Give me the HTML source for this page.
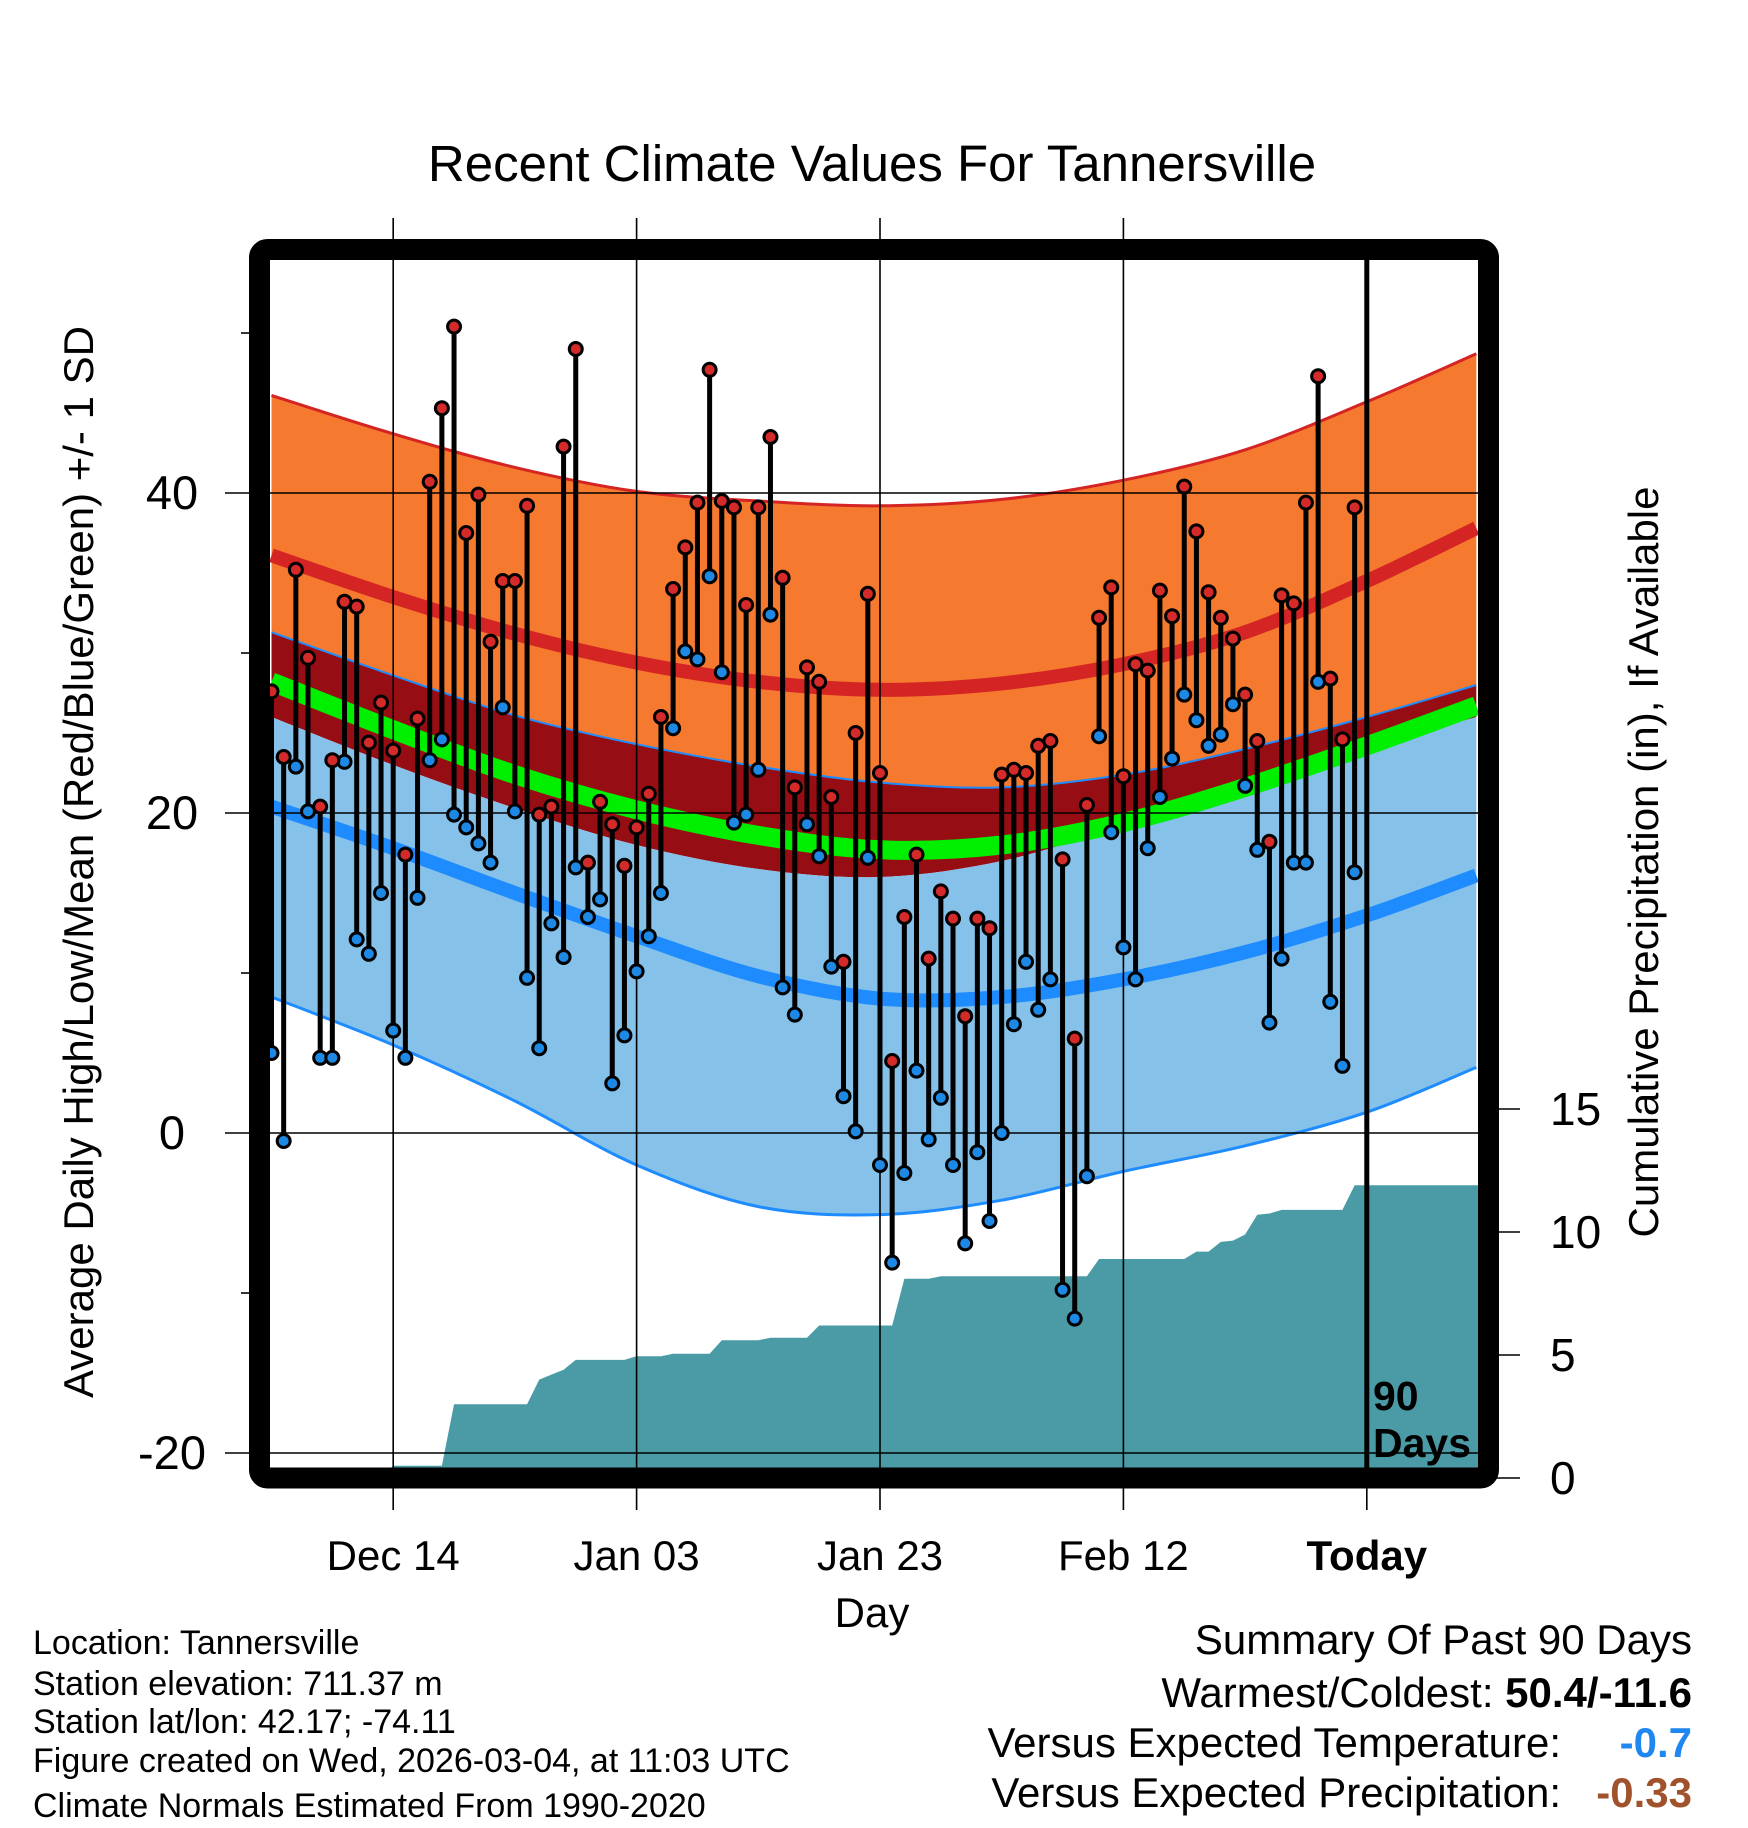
<!DOCTYPE html>
<html><head><meta charset="utf-8"><style>
html,body{margin:0;padding:0;background:#fff;}
svg{display:block;font-family:"Liberation Sans",sans-serif;}
</style></head><body>
<svg id="chart" width="1748" height="1828" viewBox="0 0 1748 1828" xmlns="http://www.w3.org/2000/svg">
<text x="872" y="181" font-size="51" text-anchor="middle">Recent Climate Values For Tannersville</text>
<g id="plot"></g>
<text transform="translate(93,862) rotate(-90)" font-size="42" text-anchor="middle">Average Daily High/Low/Mean (Red/Blue/Green) +/- 1 SD</text>
<text transform="translate(1658,862) rotate(-90)" font-size="42" text-anchor="middle">Cumulative Precipitation (in), If Available</text>
<text x="872" y="1627" font-size="42" text-anchor="middle">Day</text>
<g font-size="34">
<text x="33" y="1654">Location: Tannersville</text>
<text x="33" y="1695">Station elevation: 711.37 m</text>
<text x="33" y="1733">Station lat/lon: 42.17; -74.11</text>
<text x="33" y="1772">Figure created on Wed, 2026-03-04, at 11:03 UTC</text>
<text x="33" y="1817">Climate Normals Estimated From 1990-2020</text>
</g>
<g font-size="42">
<text x="1692" y="1654" text-anchor="end">Summary Of Past 90 Days</text>
<text x="1692" y="1707" text-anchor="end">Warmest/Coldest: <tspan font-weight="bold">50.4/-11.6</tspan></text>
<text x="1561" y="1757" text-anchor="end">Versus Expected Temperature:</text>
<text x="1692" y="1757" text-anchor="end" font-weight="bold" fill="#1e88f0">-0.7</text>
<text x="1561" y="1807" text-anchor="end">Versus Expected Precipitation:</text>
<text x="1692" y="1807" text-anchor="end" font-weight="bold" fill="#a0522d">-0.33</text>
</g>
</svg>
<script>
// ---- data ----
const highs = [27.6,23.5,35.2,29.7,20.4,23.3,33.2,32.9,24.4,26.9,23.9,17.4,25.9,40.7,45.3,50.4,37.5,39.9,30.7,34.5,34.5,39.2,19.9,20.4,42.9,49.0,16.9,20.7,19.3,16.7,19.1,21.2,26.0,34.0,36.6,39.4,47.7,39.5,39.1,33.0,39.1,43.5,34.7,21.6,29.1,28.2,21.0,10.7,25.0,33.7,22.5,4.5,13.5,17.4,10.9,15.1,13.4,7.3,13.4,12.8,22.4,22.7,22.5,24.2,24.5,17.1,5.9,20.5,32.2,34.1,22.3,29.3,28.9,33.9,32.3,40.4,37.6,33.8,32.2,30.9,27.4,24.5,18.2,33.6,33.1,39.4,47.3,28.4,24.6,39.1];
const lows = [5.0,-0.5,22.9,20.1,4.7,4.7,23.2,12.1,11.2,15.0,6.4,4.7,14.7,23.3,24.6,19.9,19.1,18.1,16.9,26.6,20.1,9.7,5.3,13.1,11.0,16.6,13.5,14.6,3.1,6.1,10.1,12.3,15.0,25.3,30.1,29.6,34.8,28.8,19.4,19.9,22.7,32.4,9.1,7.4,19.3,17.3,10.4,2.3,0.1,17.2,-2.0,-8.1,-2.5,3.9,-0.4,2.2,-2.0,-6.9,-1.2,-5.5,0.0,6.8,10.7,7.7,9.6,-9.8,-11.6,-2.7,24.8,18.8,11.6,9.6,17.8,21.0,23.4,27.4,25.8,24.2,24.9,26.8,21.7,17.7,6.9,10.9,16.9,16.9,28.2,8.2,4.2,16.3];
const precip = [0,0,0,0,0,0,0,0,0,0,0.5,0.5,0.5,0.5,0.5,3.0,3.0,3.0,3.0,3.0,3.0,3.0,4.0,4.2,4.4,4.8,4.8,4.8,4.8,4.8,4.95,4.95,4.95,5.05,5.05,5.05,5.05,5.6,5.6,5.6,5.6,5.7,5.7,5.7,5.7,6.2,6.2,6.2,6.2,6.2,6.2,6.2,8.1,8.1,8.1,8.2,8.2,8.2,8.2,8.2,8.2,8.2,8.2,8.2,8.2,8.2,8.2,8.2,8.9,8.9,8.9,8.9,8.9,8.9,8.9,8.9,9.2,9.2,9.6,9.65,9.9,10.7,10.75,10.9,10.9,10.9,10.9,10.9,10.9,11.9];
const knotDays = [0,10,20,30,40,50,60,70,80,90,99];
const recHigh  = [46.1,43.7,41.6,40.1,39.5,39.2,39.6,40.8,42.7,45.7,48.7];
const meanHigh = [36.1,33.5,31.2,29.4,28.2,27.7,28.1,29.3,31.3,34.5,37.8];
const sdTop    = [31.3,28.6,26.1,24.3,22.9,21.9,21.6,22.4,24.0,26.0,28.0];
const meanTemp = [28.2,25.2,22.4,20.2,18.6,17.7,18.0,19.4,21.6,24.2,26.7];
const sdBottom = [26.0,23.0,20.3,18.0,16.5,16.0,17.0,19.2,21.5,24.0,26.0];
const meanLow  = [20.4,17.8,15.0,12.3,9.8,8.4,8.5,9.6,11.3,13.6,16.1];
const recLow   = [8.5,5.5,2.0,-2.0,-4.6,-5.1,-4.2,-2.4,-0.8,1.3,4.1];
const yTicks = [40,20,0,-20];
const yMinor = [50,30,10,-10];
const pTicks = [0,5,10,15];
const xTickDays = [10,30,50,70,90];
const xTickLabels = ["Dec 14","Jan 03","Jan 23","Feb 12","Today"];

// ---- axes ----
const L=270,R=1478,T=260,B=1468;
const X = d => 271.5 + 12.17*d;
const Y = v => 1133 - 16*v;
const YP = v => 1478 - 24.6*v;
const NS="http://www.w3.org/2000/svg";
const plot=document.getElementById('plot');
function mk(tag,attrs,parent){const e=document.createElementNS(NS,tag);for(const k in attrs)e.setAttribute(k,attrs[k]);(parent||plot).appendChild(e);return e;}
function pts(days,vals){return days.map((d,i)=>[X(d),Y(vals[i])]);}
function smooth(p){let s='';for(let i=0;i<p.length-1;i++){const p0=p[Math.max(0,i-1)],p1=p[i],p2=p[i+1],p3=p[Math.min(p.length-1,i+2)];
 const c1=[p1[0]+(p2[0]-p0[0])/6,p1[1]+(p2[1]-p0[1])/6],c2=[p2[0]-(p3[0]-p1[0])/6,p2[1]-(p3[1]-p1[1])/6];
 s+=(i===0?'M'+p1[0]+','+p1[1]:'')+' C'+c1.join(',')+' '+c2.join(',')+' '+p2.join(',');}return s;}
function rev(p){return p.slice().reverse();}
function band(a,b){const pa=pts(knotDays,a),pb=rev(pts(knotDays,b));return smooth(pa)+' L'+pb[0].join(',')+smooth(pb).replace(/^M[^ ]+/,'')+' Z';}

const defs=mk('defs',{});
const cp=mk('clipPath',{id:'clip'},defs);
mk('rect',{x:L,y:T,width:R-L,height:B-T},cp);
const g=mk('g',{'clip-path':'url(#clip)'});



let e;
e=mk('path',{d:band(recHigh,sdTop),fill:'#f5792e'},g);

e=mk('path',{d:band(sdTop,sdBottom),fill:'#960e14'},g);

e=mk('path',{d:band(sdBottom,recLow),fill:'#85c1e8'},g);

e=mk('path',{d:smooth(pts(knotDays,meanTemp)),fill:'none',stroke:'#00ee00',"stroke-width":19},g);

e=mk('path',{d:smooth(pts(knotDays,meanHigh)),fill:'none',stroke:'#d42424',"stroke-width":14},g);

e=mk('path',{d:smooth(pts(knotDays,meanLow)),fill:'none',stroke:'#1e8cff',"stroke-width":14},g);

e=mk('path',{d:smooth(pts(knotDays,recHigh)),fill:'none',stroke:'#d42424',"stroke-width":3},g);

e=mk('path',{d:smooth(pts(knotDays,sdTop)),fill:'none',stroke:'#1e8cff',"stroke-width":2},g);

e=mk('path',{d:smooth(pts(knotDays,recLow)),fill:'none',stroke:'#1e8cff',"stroke-width":3},g);


// precipitation area
let pd='M'+X(0)+','+YP(0);
precip.forEach((v,i)=>{pd+=' L'+X(i)+','+YP(v);});
pd+=' L'+R+','+YP(precip[precip.length-1])+' L'+R+','+YP(0)+' Z';
e=mk('path',{d:pd,fill:'#4a9ba5'},g);


// gridlines
yTicks.forEach(v=>{
 e=mk('line',{x1:225,x2:R,y1:Y(v),y2:Y(v),stroke:'#000',"stroke-width":1.6});
 
 e=mk('text',{x:172,y:Y(v)+16,"font-size":47,"text-anchor":"middle"});e.textContent=v;
 
});
yMinor.forEach(v=>{
 e=mk('line',{x1:241,x2:252,y1:Y(v),y2:Y(v),stroke:'#000',"stroke-width":1.6});
 
});
xTickDays.forEach((d,i)=>{
 const today=xTickLabels[i]==='Today';
 e=mk('line',{x1:X(d),x2:X(d),y1:today?1480:218,y2:1510,stroke:'#000',"stroke-width":1.6});
 
 if(today){
  e=mk('line',{x1:X(d),x2:X(d),y1:T,y2:B,stroke:'#000',"stroke-width":5});
  
 }
 e=mk('text',{x:X(d),y:1570,"font-size":42,"text-anchor":"middle","font-weight":today?"bold":"normal"});e.textContent=xTickLabels[i];
 
});
pTicks.forEach(v=>{
 e=mk('line',{x1:1495,x2:1520,y1:YP(v),y2:YP(v),stroke:'#000',"stroke-width":1.6});
 
 e=mk('text',{x:1550,y:YP(v)+16,"font-size":46});e.textContent=v;
 
});

// stems and markers
highs.forEach((h,i)=>{
 const x=X(i);
 e=mk('line',{x1:x,x2:x,y1:Y(h),y2:Y(lows[i]),stroke:'#000',"stroke-width":5});
 
});
lows.forEach((v,i)=>{
 e=mk('circle',{cx:X(i),cy:Y(v),r:6.5,fill:'#1e88e5',stroke:'#000',"stroke-width":3});
 
});
highs.forEach((v,i)=>{
 e=mk('circle',{cx:X(i),cy:Y(v),r:6.5,fill:'#d42a2a',stroke:'#000',"stroke-width":3});
 
});

e=mk('text',{x:1373,y:1410,"font-size":41,"font-weight":"bold"});e.textContent='90';

e=mk('text',{x:1373,y:1457,"font-size":41,"font-weight":"bold"});e.textContent='Days';


e=mk('rect',{x:259.5,y:249.5,width:1229,height:1228.5,rx:8,fill:'none',stroke:'#000',"stroke-width":21});

</script>
</body></html>
